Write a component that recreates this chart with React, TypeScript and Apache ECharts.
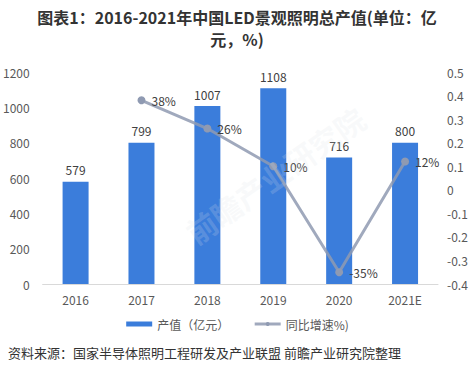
import React, { useEffect, useRef } from "react";
import * as echarts from "echarts";

const categories = ["2016", "2017", "2018", "2019", "2020", "2021E"];
const outputValues = [579, 799, 1007, 1108, 716, 800];
const growthValues: (number | string)[] = ["-", 0.38, 0.26, 0.1, -0.35, 0.12];
const titleLine1 = "图表1：2016-2021年中国LED景观照明总产值(单位：亿";
const titleLine2 = "元，%)";
const sourceText = "资料来源：国家半导体照明工程研发及产业联盟 前瞻产业研究院整理";
const barName = "产值（亿元）";
const lineName = "同比增速%)";

const FONT = "'Noto Sans CJK SC', 'Noto Sans', sans-serif";

export default function App() {
  const ref = useRef<HTMLDivElement>(null);
  useEffect(() => {
    if (!ref.current) return;
    const chart = echarts.init(ref.current, undefined, { renderer: "svg" });
    chart.setOption({
      animation: false,
      backgroundColor: "#ffffff",
      textStyle: { fontFamily: FONT },
      legend: {
        bottom: 30,
        left: "center",
        itemWidth: 26,
        itemHeight: 5,
        itemGap: 24,
        textStyle: { fontSize: 12, color: "#595959", fontFamily: FONT },
        data: [
          { name: barName, icon: "rect" },
          {
            name: lineName,
            itemStyle: { color: "#8f9ab2", borderWidth: 0 },
            lineStyle: { color: "#8f9ab2", width: 3 },
          },
        ],
      },
      grid: { left: 40, right: 37, top: 72, bottom: 81 },
      xAxis: {
        type: "category",
        data: categories,
        axisLine: { show: true, lineStyle: { color: "#d9d9d9" } },
        axisTick: { show: false },
        axisLabel: { color: "#595959", fontSize: 12, margin: 9 },
      },
      yAxis: [
        {
          type: "value",
          min: 0,
          max: 1200,
          interval: 200,
          splitLine: { show: false },
          axisLine: { show: false },
          axisTick: { show: false },
          axisLabel: {
            color: "#595959",
            fontSize: 12,
            margin: 13,
            formatter: (v: number) => String(v),
          },
        },
        {
          type: "value",
          min: -0.4,
          max: 0.5,
          interval: 0.1,
          splitLine: { show: false },
          axisLine: { show: false },
          axisTick: { show: false },
          axisLabel: {
            color: "#595959",
            fontSize: 12,
            margin: 9,
            formatter: (v: number) => String(Math.round(v * 10) / 10),
          },
        },
      ],
      series: [
        {
          name: barName,
          type: "bar",
          data: outputValues,
          barWidth: 26,
          itemStyle: { color: "#3b7ddb" },
          label: {
            show: true,
            position: "top",
            distance: 6,
            color: "#404040",
            fontSize: 12,
          },
        },
        {
          name: lineName,
          type: "line",
          yAxisIndex: 1,
          data: growthValues,
          symbol: "circle",
          symbolSize: 8,
          itemStyle: { color: "#8f9ab2" },
          lineStyle: { color: "#8f9ab2", width: 3, opacity: 0.85 },
          label: {
            show: true,
            position: "right",
            distance: 6,
            color: "#404040",
            fontSize: 12,
            formatter: (p: any) => Math.round(p.value * 100) + "%",
          },
        },
      ],
      graphic: [
        {
          type: "text",
          x: 237,
          y: 17,
          style: {
            text: titleLine1,
            fontSize: 16,
            lineHeight: 16,
            fontWeight: "bold",
            fill: "#333333",
            align: "center",
            verticalAlign: "middle",
            fontFamily: FONT,
          },
        },
        {
          type: "text",
          x: 237,
          y: 39,
          style: {
            text: titleLine2,
            fontSize: 16,
            lineHeight: 16,
            fontWeight: "bold",
            fill: "#333333",
            align: "center",
            verticalAlign: "middle",
            fontFamily: FONT,
          },
        },
        {
          type: "text",
          left: 8,
          top: 346,
          style: {
            text: sourceText,
            fontSize: 13,
            fill: "#333333",
            fontFamily: FONT,
          },
        },
        {
          type: "text",
          x: 275,
          y: 175,
          rotation: (35 * Math.PI) / 180,
          z: 100,
          silent: true,
          style: {
            text: "前瞻产业研究院",
            fontSize: 30,
            fontWeight: "bold",
            fill: "rgba(220,224,232,0.2)",
            align: "center",
            verticalAlign: "middle",
            fontFamily: FONT,
          },
        },
      ],
    });
    return () => chart.dispose();
  }, []);
  return <div ref={ref} style={{ width: 475, height: 365, position: "absolute", left: 0, top: 0 }} />;
}
